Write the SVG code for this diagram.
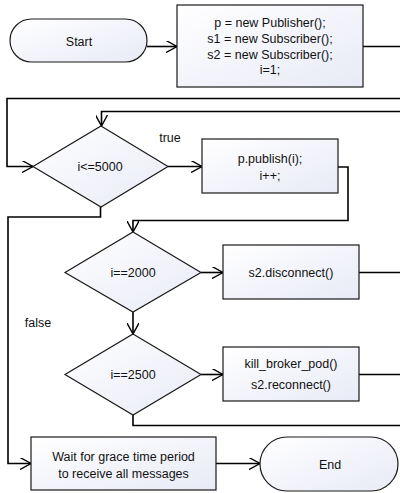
<svg xmlns="http://www.w3.org/2000/svg" width="400" height="493" viewBox="0 0 400 493">
  <defs>
    <linearGradient id="fillGrad" x1="0" y1="0" x2="1" y2="1">
      <stop offset="0" stop-color="#ffffff"/>
      <stop offset="1" stop-color="#e8eaf6"/>
    </linearGradient>
    <marker id="openArrow" viewBox="0 0 12 12" refX="11" refY="6" markerWidth="12" markerHeight="12" markerUnits="userSpaceOnUse" orient="auto">
      <path d="M0,0 L11,6 L0,12" fill="none" stroke="#000" stroke-width="1.4"/>
    </marker>
  </defs>
  <style>
    .shape { fill: url(#fillGrad); stroke: #1a1a1a; stroke-width: 1.2; }
    .lbl { font-family: "Liberation Sans", Arial, sans-serif; font-size: 12.5px; fill: #111; text-anchor: middle; }
    .conn { fill: none; stroke: #000; stroke-width: 1.6; }
  </style>
  <rect width="400" height="493" fill="#fff"/>

  <g id="connectors">
    <path class="conn" d="M147,46.5 L177,46.5" marker-end="url(#openArrow)"/>
    <path class="conn" d="M363,46.5 L400,46.5"/>
    <path class="conn" d="M400,98.5 L7,98.5 L7,166.5 L33,166.5" marker-end="url(#openArrow)"/>
    <path class="conn" d="M400,111.5 L101.5,111.5 L101.5,126" marker-end="url(#openArrow)"/>
    <path class="conn" d="M168,166.5 L202,166.5" marker-end="url(#openArrow)"/>
    <path class="conn" d="M338,167 L348,167 L348,220.5 L133,220.5 L133,232" marker-end="url(#openArrow)"/>
    <path class="conn" d="M100.5,207 L100.5,217 L8,217 L8,463.5 L31,463.5" marker-end="url(#openArrow)"/>
    <path class="conn" d="M201,272.5 L223,272.5" marker-end="url(#openArrow)"/>
    <path class="conn" d="M359,272.5 L400,272.5"/>
    <path class="conn" d="M133,312 L133,334" marker-end="url(#openArrow)"/>
    <path class="conn" d="M201,374.5 L223,374.5" marker-end="url(#openArrow)"/>
    <path class="conn" d="M359,374.5 L400,374.5"/>
    <path class="conn" d="M133,415 L133,425.5 L400,425.5"/>
    <path class="conn" d="M216,463.5 L260,463.5" marker-end="url(#openArrow)"/>
    <text class="lbl" x="170" y="142">true</text>
    <text class="lbl" x="38" y="327">false</text>
  </g>

  <g id="start">
    <rect class="shape" x="10" y="19" width="137" height="43" rx="21.5"/>
    <text class="lbl" x="79" y="46">Start</text>
  </g>

  <g id="init">
    <rect class="shape" x="177" y="5" width="186" height="82"/>
    <text class="lbl" x="270" y="27">p = new Publisher();</text>
    <text class="lbl" x="270" y="43">s1 = new Subscriber();</text>
    <text class="lbl" x="270" y="59">s2 = new Subscriber();</text>
    <text class="lbl" x="270" y="74">i=1;</text>
  </g>

  <g id="loop-cond">
    <polygon class="shape" points="101,126 168,166.5 101,207 33,166.5"/>
    <text class="lbl" x="100" y="171">i&lt;=5000</text>
  </g>

  <g id="publish">
    <rect class="shape" x="202" y="139" width="136" height="54"/>
    <text class="lbl" x="270" y="163">p.publish(i);</text>
    <text class="lbl" x="270" y="180">i++;</text>
  </g>

  <g id="check-2000">
    <polygon class="shape" points="133,232 201,272.5 133,312 65,272.5"/>
    <text class="lbl" x="133" y="277">i==2000</text>
  </g>

  <g id="disconnect">
    <rect class="shape" x="223" y="245" width="136" height="54"/>
    <text class="lbl" x="291" y="277">s2.disconnect()</text>
  </g>

  <g id="check-2500">
    <polygon class="shape" points="133,334 201,374.5 133,415 65,374.5"/>
    <text class="lbl" x="133" y="379">i==2500</text>
  </g>

  <g id="kill-reconnect">
    <rect class="shape" x="223" y="347" width="136" height="54"/>
    <text class="lbl" x="291" y="368">kill_broker_pod()</text>
    <text class="lbl" x="291" y="389">s2.reconnect()</text>
  </g>

  <g id="wait">
    <rect class="shape" x="31" y="437" width="185" height="53"/>
    <text class="lbl" x="123.5" y="461">Wait for grace time period</text>
    <text class="lbl" x="123.5" y="478">to receive all messages</text>
  </g>

  <g id="end">
    <rect class="shape" x="260" y="437" width="138" height="54" rx="27"/>
    <text class="lbl" x="330" y="469">End</text>
  </g>
</svg>
